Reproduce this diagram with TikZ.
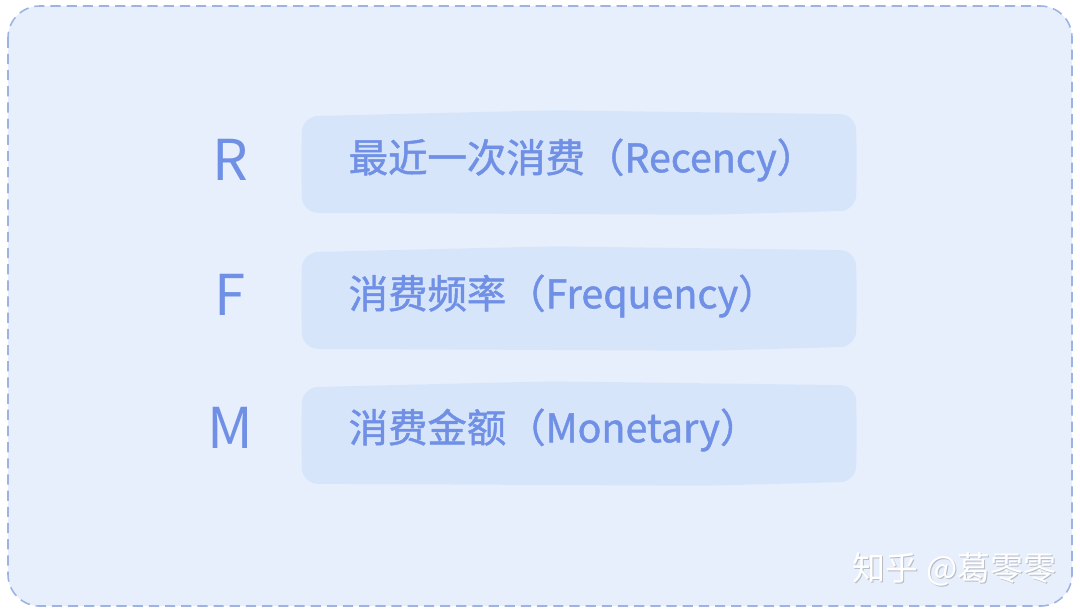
\documentclass[tikz,border=0pt]{standalone}
\usepackage{fontspec}
\setmainfont{Noto Sans CJK SC}
\newfontfamily\rowfont[FakeBold=1.2]{Noto Sans CJK SC}
\usepackage{tikz}
\usetikzlibrary{positioning}
\definecolor{panelfill}{HTML}{E7EFFD}
\definecolor{panelline}{HTML}{9DB3E3}
\definecolor{boxfill}{HTML}{D7E5FB}
\definecolor{letterblue}{HTML}{7090E6}
\definecolor{markgray}{HTML}{B8BCC4}
% hand-drawn looking fill behind a named box
\newcommand{\wavybox}[1]{%
  \fill[boxfill, rounded corners=4.5pt] ([shift={(-1,0)}]#1.west)
    -- ([shift={(0,4)}]#1.north west) -- ([shift={(250,-2)}]#1.north west)
    -- ([shift={(0,2)}]#1.north east) -- ([shift={(1,0)}]#1.east)
    -- ([shift={(0,-3)}]#1.south east) -- ([shift={(-150,1)}]#1.south east)
    -- ([shift={(0,-1)}]#1.south west) -- cycle;}

\begin{document}
\begin{tikzpicture}[x=0.01cm, y=-0.01cm,
    rowbox/.style={draw=none, minimum width=5.52cm, minimum height=1.0cm, inner sep=0pt},
    rowtext/.style={anchor=west, text=letterblue, font=\rowfont\fontsize{11.2}{13}\selectfont, inner sep=0pt},
    rowletter/.style={text=letterblue, font=\fontsize{16}{19}\selectfont, inner sep=0pt},
    marktext/.style={anchor=west, font=\fontsize{9.4}{11}\selectfont, inner sep=0pt}]
    \useasboundingbox (0,0) rectangle (1080,614);

    % Panel
    \draw[fill=panelfill, draw=panelline, dash pattern=on 2.9pt off 1.7pt, line width=0.45pt, rounded corners=9pt] (8,6) rectangle (1072,606);

    % Boxes
    \node[rowbox] (rbox) at (579,163) {};
    \node[rowbox] (fbox) at (579,299) {};
    \node[rowbox] (mbox) at (579,434) {};
    \wavybox{rbox}
    \wavybox{fbox}
    \wavybox{mbox}

    % Letters
    \node[rowletter] (rlet) at (230,160) {R};
    \node[rowletter] (flet) at (230,295) {F};
    \node[rowletter] (mlet) at (230,428) {M};

    % Labels
    \node[rowtext] (rtext) at (348,160) {最近一次消费（Recency）};
    \node[rowtext] (ftext) at (348,296) {消费频率（Frequency）};
    \node[rowtext] (mtext) at (348,430) {消费金额（Monetary）};

    % Watermark
    \node[marktext, text=markgray] (mark) at (853,570) {知乎 @葛零零};
    \node[marktext, text=white] at (852,569) {知乎 @葛零零};
\end{tikzpicture}
\end{document}
